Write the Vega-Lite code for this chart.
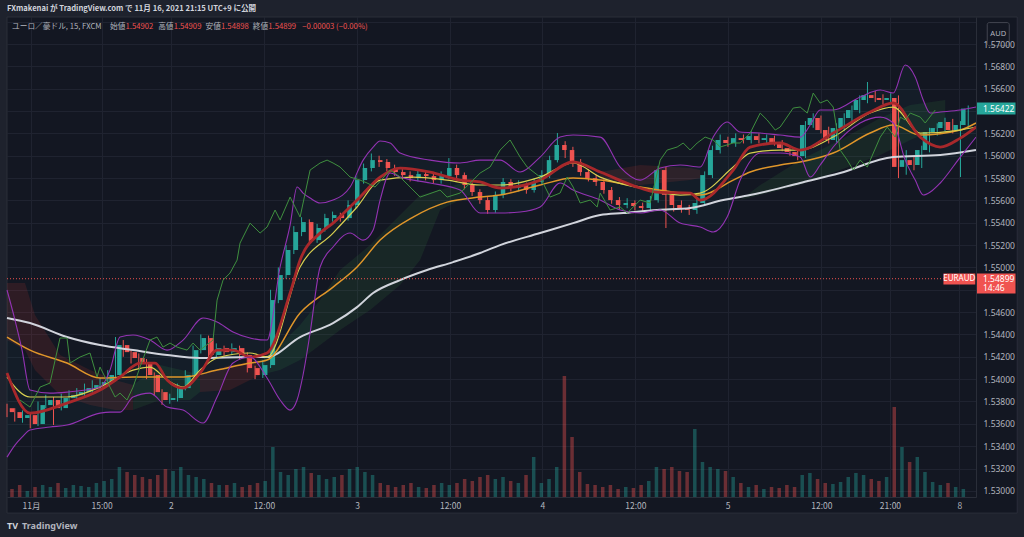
{
"$schema":"https://vega.github.io/schema/vega-lite/v6.json",
"width":969,"height":480,
"autosize":{"type":"none"},
"padding":{"left":7,"top":17,"right":48,"bottom":40},
"background":"#1e222d",
"config":{"view":{"stroke":null,"fill":"#131722"},"font":"Noto Sans CJK JP"},
"title":{"text":"FXmakenai が TradingView.com で 11月 16, 2021 21:15 UTC+9 に公開","anchor":"start","frame":"group","offset":4,"fontSize":7.6,"fontWeight":"bold","color":"#d1d4dc","font":"Noto Sans CJK JP"},
"resolve":{"scale":{"x":"independent","y":"independent"}},
"datasets":{
"c":[
{"t":0,"o":1.5374,"h":1.5378,"l":1.5366,"c":1.53705,"v":8},
{"t":1,"o":1.53705,"h":1.5374,"l":1.5362,"c":1.53652,"v":12},
{"t":2,"o":1.53652,"h":1.5372,"l":1.5361,"c":1.53678,"v":6},
{"t":3,"o":1.53678,"h":1.537,"l":1.5356,"c":1.53598,"v":10},
{"t":4,"o":1.53598,"h":1.538,"l":1.5358,"c":1.53768,"v":12},
{"t":5,"o":1.53768,"h":1.5386,"l":1.5374,"c":1.53813,"v":10},
{"t":6,"o":1.53813,"h":1.5384,"l":1.5359,"c":1.53741,"v":14},
{"t":7,"o":1.53741,"h":1.5387,"l":1.5372,"c":1.53831,"v":9},
{"t":8,"o":1.53831,"h":1.539,"l":1.538,"c":1.53857,"v":12},
{"t":9,"o":1.53857,"h":1.5392,"l":1.5382,"c":1.53884,"v":11},
{"t":10,"o":1.53884,"h":1.5396,"l":1.5385,"c":1.5392,"v":10},
{"t":11,"o":1.5392,"h":1.5399,"l":1.5388,"c":1.53947,"v":14},
{"t":12,"o":1.53947,"h":1.5401,"l":1.539,"c":1.53974,"v":16},
{"t":13,"o":1.53974,"h":1.5408,"l":1.5394,"c":1.54037,"v":18},
{"t":14,"o":1.54037,"h":1.54377,"l":1.5401,"c":1.54305,"v":30},
{"t":15,"o":1.54305,"h":1.5435,"l":1.542,"c":1.54242,"v":25},
{"t":16,"o":1.54242,"h":1.5427,"l":1.5414,"c":1.54189,"v":22},
{"t":17,"o":1.54189,"h":1.5423,"l":1.541,"c":1.54153,"v":20},
{"t":18,"o":1.54153,"h":1.5418,"l":1.54,"c":1.54037,"v":18},
{"t":19,"o":1.54037,"h":1.5406,"l":1.5385,"c":1.53884,"v":22},
{"t":20,"o":1.53884,"h":1.5391,"l":1.5377,"c":1.53813,"v":28},
{"t":21,"o":1.53813,"h":1.5387,"l":1.5378,"c":1.53831,"v":26},
{"t":22,"o":1.53831,"h":1.5396,"l":1.538,"c":1.5392,"v":30},
{"t":23,"o":1.5392,"h":1.5408,"l":1.539,"c":1.54037,"v":22},
{"t":24,"o":1.54037,"h":1.543,"l":1.5402,"c":1.5426,"v":20},
{"t":25,"o":1.5426,"h":1.544,"l":1.5423,"c":1.54368,"v":18},
{"t":26,"o":1.54368,"h":1.5439,"l":1.5418,"c":1.54216,"v":14},
{"t":27,"o":1.54216,"h":1.5432,"l":1.5419,"c":1.54278,"v":12},
{"t":28,"o":1.54278,"h":1.543,"l":1.5421,"c":1.54242,"v":12},
{"t":29,"o":1.54242,"h":1.5432,"l":1.5422,"c":1.54278,"v":14},
{"t":30,"o":1.54278,"h":1.543,"l":1.5418,"c":1.54216,"v":10},
{"t":31,"o":1.54216,"h":1.5424,"l":1.5406,"c":1.54099,"v":12},
{"t":32,"o":1.54099,"h":1.5412,"l":1.54,"c":1.54037,"v":14},
{"t":33,"o":1.54037,"h":1.5417,"l":1.5401,"c":1.54126,"v":16},
{"t":34,"o":1.54126,"h":1.548,"l":1.541,"c":1.54708,"v":50},
{"t":35,"o":1.54708,"h":1.55,"l":1.5468,"c":1.54932,"v":25},
{"t":36,"o":1.54932,"h":1.552,"l":1.549,"c":1.55156,"v":22},
{"t":37,"o":1.55156,"h":1.5537,"l":1.5512,"c":1.55317,"v":28},
{"t":38,"o":1.55317,"h":1.5545,"l":1.5528,"c":1.55406,"v":30},
{"t":39,"o":1.55406,"h":1.5543,"l":1.552,"c":1.55245,"v":24},
{"t":40,"o":1.55245,"h":1.5539,"l":1.5522,"c":1.55353,"v":22},
{"t":41,"o":1.55353,"h":1.5548,"l":1.5532,"c":1.55442,"v":18},
{"t":42,"o":1.55442,"h":1.555,"l":1.5541,"c":1.55469,"v":20},
{"t":43,"o":1.55469,"h":1.5549,"l":1.5541,"c":1.55442,"v":22},
{"t":44,"o":1.55442,"h":1.556,"l":1.5542,"c":1.55559,"v":28},
{"t":45,"o":1.55559,"h":1.5582,"l":1.5553,"c":1.55782,"v":30},
{"t":46,"o":1.55782,"h":1.5593,"l":1.5575,"c":1.5589,"v":25},
{"t":47,"o":1.5589,"h":1.5602,"l":1.5586,"c":1.55961,"v":22},
{"t":48,"o":1.55961,"h":1.56,"l":1.559,"c":1.55944,"v":14},
{"t":49,"o":1.55944,"h":1.5597,"l":1.5586,"c":1.5589,"v":12},
{"t":50,"o":1.5589,"h":1.5592,"l":1.5582,"c":1.55854,"v":10},
{"t":51,"o":1.55854,"h":1.5588,"l":1.5579,"c":1.55827,"v":12},
{"t":52,"o":1.55827,"h":1.5586,"l":1.5577,"c":1.558,"v":14},
{"t":53,"o":1.558,"h":1.5587,"l":1.5577,"c":1.55836,"v":10},
{"t":54,"o":1.55836,"h":1.5586,"l":1.5578,"c":1.55818,"v":9},
{"t":55,"o":1.55818,"h":1.5584,"l":1.5575,"c":1.55782,"v":12},
{"t":56,"o":1.55782,"h":1.5586,"l":1.5575,"c":1.55818,"v":14},
{"t":57,"o":1.55818,"h":1.55979,"l":1.5579,"c":1.5589,"v":12},
{"t":58,"o":1.5589,"h":1.5592,"l":1.558,"c":1.55827,"v":14},
{"t":59,"o":1.55827,"h":1.5585,"l":1.557,"c":1.55738,"v":18},
{"t":60,"o":1.55738,"h":1.5576,"l":1.5564,"c":1.55675,"v":16},
{"t":61,"o":1.55675,"h":1.557,"l":1.5557,"c":1.55603,"v":20},
{"t":62,"o":1.55603,"h":1.5563,"l":1.5548,"c":1.55514,"v":22},
{"t":63,"o":1.55514,"h":1.5568,"l":1.5549,"c":1.55648,"v":18},
{"t":64,"o":1.55648,"h":1.558,"l":1.5562,"c":1.55765,"v":20},
{"t":65,"o":1.55765,"h":1.5579,"l":1.5568,"c":1.55711,"v":16},
{"t":66,"o":1.55711,"h":1.5578,"l":1.5568,"c":1.55738,"v":14},
{"t":67,"o":1.55738,"h":1.5576,"l":1.5566,"c":1.55693,"v":22},
{"t":68,"o":1.55693,"h":1.558,"l":1.5567,"c":1.55765,"v":40},
{"t":69,"o":1.55765,"h":1.5587,"l":1.5574,"c":1.55827,"v":14},
{"t":70,"o":1.55827,"h":1.56,"l":1.558,"c":1.55961,"v":18},
{"t":71,"o":1.55961,"h":1.56203,"l":1.5594,"c":1.56096,"v":30},
{"t":72,"o":1.56096,"h":1.5613,"l":1.5598,"c":1.56051,"v":121},
{"t":73,"o":1.56051,"h":1.5608,"l":1.559,"c":1.55944,"v":60},
{"t":74,"o":1.55944,"h":1.5597,"l":1.5582,"c":1.55854,"v":25},
{"t":75,"o":1.55854,"h":1.5588,"l":1.5577,"c":1.558,"v":13},
{"t":76,"o":1.558,"h":1.5583,"l":1.5573,"c":1.55765,"v":12},
{"t":77,"o":1.55765,"h":1.5579,"l":1.5566,"c":1.55693,"v":10},
{"t":78,"o":1.55693,"h":1.5572,"l":1.5557,"c":1.55603,"v":12},
{"t":79,"o":1.55603,"h":1.5563,"l":1.5552,"c":1.55559,"v":8},
{"t":80,"o":1.55559,"h":1.5562,"l":1.5553,"c":1.55577,"v":10},
{"t":81,"o":1.55577,"h":1.556,"l":1.5551,"c":1.5555,"v":9},
{"t":82,"o":1.5555,"h":1.5558,"l":1.555,"c":1.55532,"v":12},
{"t":83,"o":1.55532,"h":1.5564,"l":1.555,"c":1.55603,"v":16},
{"t":84,"o":1.55603,"h":1.5591,"l":1.5558,"c":1.55872,"v":30},
{"t":85,"o":1.55872,"h":1.559,"l":1.55353,"c":1.5565,"v":28},
{"t":86,"o":1.5565,"h":1.5568,"l":1.555,"c":1.55559,"v":30},
{"t":87,"o":1.55559,"h":1.556,"l":1.5549,"c":1.55532,"v":26},
{"t":88,"o":1.55532,"h":1.5556,"l":1.5547,"c":1.55514,"v":25},
{"t":89,"o":1.55514,"h":1.5562,"l":1.5548,"c":1.55577,"v":68},
{"t":90,"o":1.55577,"h":1.5586,"l":1.5556,"c":1.55827,"v":35},
{"t":91,"o":1.55827,"h":1.5609,"l":1.558,"c":1.56051,"v":30},
{"t":92,"o":1.56051,"h":1.5619,"l":1.5602,"c":1.56141,"v":28},
{"t":93,"o":1.56141,"h":1.5617,"l":1.5608,"c":1.56114,"v":26},
{"t":94,"o":1.56114,"h":1.562,"l":1.5608,"c":1.56158,"v":20},
{"t":95,"o":1.56158,"h":1.5619,"l":1.5611,"c":1.56141,"v":14},
{"t":96,"o":1.56141,"h":1.5622,"l":1.5611,"c":1.56176,"v":10},
{"t":97,"o":1.56176,"h":1.562,"l":1.5611,"c":1.56141,"v":12},
{"t":98,"o":1.56141,"h":1.5619,"l":1.5611,"c":1.56158,"v":8},
{"t":99,"o":1.56158,"h":1.5618,"l":1.5609,"c":1.56123,"v":10},
{"t":100,"o":1.56123,"h":1.5614,"l":1.5604,"c":1.56069,"v":9},
{"t":101,"o":1.56069,"h":1.5609,"l":1.56,"c":1.56033,"v":12},
{"t":102,"o":1.56033,"h":1.5606,"l":1.5596,"c":1.55997,"v":10},
{"t":103,"o":1.55997,"h":1.5631,"l":1.5598,"c":1.56275,"v":22},
{"t":104,"o":1.56275,"h":1.5638,"l":1.5625,"c":1.56338,"v":24},
{"t":105,"o":1.56338,"h":1.5636,"l":1.562,"c":1.5623,"v":18},
{"t":106,"o":1.5623,"h":1.5626,"l":1.5611,"c":1.56141,"v":14},
{"t":107,"o":1.56141,"h":1.5629,"l":1.5612,"c":1.56248,"v":13},
{"t":108,"o":1.56248,"h":1.5638,"l":1.5622,"c":1.56338,"v":15},
{"t":109,"o":1.56338,"h":1.5645,"l":1.5631,"c":1.56409,"v":20},
{"t":110,"o":1.56409,"h":1.5654,"l":1.5638,"c":1.56499,"v":24},
{"t":111,"o":1.56499,"h":1.5666,"l":1.5647,"c":1.56543,"v":22},
{"t":112,"o":1.56543,"h":1.5658,"l":1.5648,"c":1.56517,"v":18},
{"t":113,"o":1.56517,"h":1.5655,"l":1.5646,"c":1.56499,"v":16},
{"t":114,"o":1.56499,"h":1.5656,"l":1.5647,"c":1.56517,"v":20},
{"t":115,"o":1.56517,"h":1.5654,"l":1.558,"c":1.559,"v":90},
{"t":116,"o":1.559,"h":1.5605,"l":1.5583,"c":1.55961,"v":50},
{"t":117,"o":1.55961,"h":1.56,"l":1.5587,"c":1.55917,"v":35},
{"t":118,"o":1.55917,"h":1.5609,"l":1.5589,"c":1.56051,"v":40},
{"t":119,"o":1.56051,"h":1.5625,"l":1.5603,"c":1.56212,"v":25},
{"t":120,"o":1.56212,"h":1.5629,"l":1.5618,"c":1.56248,"v":15},
{"t":121,"o":1.56248,"h":1.5634,"l":1.5622,"c":1.56302,"v":12},
{"t":122,"o":1.56302,"h":1.5633,"l":1.562,"c":1.5623,"v":14},
{"t":123,"o":1.5623,"h":1.5631,"l":1.55809,"c":1.56275,"v":10},
{"t":124,"o":1.56275,"h":1.5645,"l":1.5625,"c":1.56422,"v":8}
],
"bb":[
{"t":0,"u":1.54798,"d":1.53302},{"t":1.03,"u":1.54529,"d":1.5341},{"t":1.94,"u":1.5426,"d":1.53481},{"t":2.97,"u":1.53902,"d":1.53544},
{"t":5.55,"u":1.53875,"d":1.53571},{"t":7.74,"u":1.53884,"d":1.53589},{"t":12,"u":1.53929,"d":1.53696},{"t":13.29,"u":1.54081,"d":1.53705},
{"t":14.58,"u":1.54377,"d":1.53705},{"t":16.26,"u":1.54395,"d":1.5384},{"t":18.45,"u":1.5435,"d":1.53875},{"t":20.65,"u":1.5426,"d":1.5375},
{"t":22.71,"u":1.5435,"d":1.53723},{"t":25.29,"u":1.54547,"d":1.53607},{"t":27.1,"u":1.54511,"d":1.5384},{"t":29.16,"u":1.54422,"d":1.54144},
{"t":31.35,"u":1.54368,"d":1.54198},{"t":33.55,"u":1.5435,"d":1.5401},{"t":35.23,"u":1.55004,"d":1.53813},{"t":36.52,"u":1.55379,"d":1.53723},
{"t":37.42,"u":1.5572,"d":1.53813},{"t":38.19,"u":1.55666,"d":1.54037},{"t":39.1,"u":1.55621,"d":1.54413},{"t":40.39,"u":1.55577,"d":1.55004},
{"t":42.06,"u":1.55603,"d":1.55183},{"t":44.26,"u":1.5572,"d":1.55308},{"t":45.94,"u":1.55961,"d":1.55245},{"t":47.23,"u":1.56078,"d":1.55335},
{"t":48.13,"u":1.56132,"d":1.55603},{"t":49.42,"u":1.56114,"d":1.55845},{"t":50.71,"u":1.56024,"d":1.55809},{"t":54.58,"u":1.55961,"d":1.55756},
{"t":58.45,"u":1.55935,"d":1.55693},{"t":61.03,"u":1.55961,"d":1.55487},{"t":63.61,"u":1.55961,"d":1.55487},{"t":66.19,"u":1.55854,"d":1.55496},
{"t":68.77,"u":1.55988,"d":1.55541},{"t":71.35,"u":1.56167,"d":1.55756},{"t":73.03,"u":1.56185,"d":1.55693},{"t":76.52,"u":1.56167,"d":1.55603},
{"t":79.1,"u":1.55899,"d":1.55514},{"t":81.68,"u":1.55782,"d":1.55487},{"t":84.26,"u":1.5589,"d":1.55514},{"t":86.84,"u":1.55917,"d":1.55397},
{"t":89.42,"u":1.55899,"d":1.55362},{"t":91.1,"u":1.56167,"d":1.55317},{"t":92.9,"u":1.56302,"d":1.55451},{"t":94.58,"u":1.56212,"d":1.55782},
{"t":97.16,"u":1.56203,"d":1.56024},{"t":99.74,"u":1.56185,"d":1.56024},{"t":102.32,"u":1.56167,"d":1.55988},{"t":103.61,"u":1.56275,"d":1.55809},
{"t":104.9,"u":1.56409,"d":1.55917},{"t":106.58,"u":1.56409,"d":1.56078},{"t":110.06,"u":1.56526,"d":1.56293},{"t":112.65,"u":1.56588,"d":1.56346},
{"t":114.32,"u":1.56561,"d":1.56293},{"t":115.87,"u":1.56812,"d":1.55961},{"t":117.16,"u":1.56705,"d":1.55782},{"t":118.19,"u":1.56499,"d":1.55648},
{"t":119.1,"u":1.56382,"d":1.55675},{"t":120.39,"u":1.56391,"d":1.55756},{"t":122.97,"u":1.56409,"d":1.55988},{"t":125,"u":1.56436,"d":1.56167}
],
"cl":[
{"g":1,"k":"dn","t":0,"a":1.5486,"b":1.5435},{"g":1,"k":"dn","t":2.32,"a":1.5486,"b":1.5426},{"g":1,"k":"dn","t":3.61,"a":1.54574,"b":1.54081},{"g":1,"k":"dn","t":6.84,"a":1.54216,"b":1.53857},{"g":1,"k":"dn","t":10.71,"a":1.54081,"b":1.53768},{"g":1,"k":"dn","t":13.94,"a":1.53992,"b":1.53723},{"g":1,"k":"dn","t":16.26,"a":1.53947,"b":1.53723},
{"g":2,"k":"up","t":16.26,"a":1.53947,"b":1.53723},{"g":2,"k":"up","t":19.74,"a":1.54126,"b":1.53813},{"g":2,"k":"up","t":23.61,"a":1.54063,"b":1.53813},{"g":2,"k":"up","t":24.9,"a":1.54037,"b":1.53884},
{"g":3,"k":"dn","t":24.9,"a":1.54037,"b":1.53884},{"g":3,"k":"dn","t":28.77,"a":1.54126,"b":1.53902},{"g":3,"k":"dn","t":32.65,"a":1.54171,"b":1.54037},
{"g":4,"k":"up","t":32.65,"a":1.54171,"b":1.54037},{"g":4,"k":"up","t":35.23,"a":1.54305,"b":1.54081},{"g":4,"k":"up","t":37.81,"a":1.54484,"b":1.54171},{"g":4,"k":"up","t":40.39,"a":1.54708,"b":1.54305},{"g":4,"k":"up","t":42.97,"a":1.54977,"b":1.54439},{"g":4,"k":"up","t":46.84,"a":1.552,"b":1.54619},{"g":4,"k":"up","t":50.71,"a":1.55469,"b":1.54842},{"g":4,"k":"up","t":53.29,"a":1.55648,"b":1.55066},{"g":4,"k":"up","t":55.87,"a":1.55693,"b":1.55514},{"g":4,"k":"up","t":59.74,"a":1.55782,"b":1.55648},
{"g":5,"k":"dn","t":76.52,"a":1.55854,"b":1.55782},{"g":5,"k":"dn","t":81.68,"a":1.55917,"b":1.55738},{"g":5,"k":"dn","t":88.13,"a":1.5589,"b":1.55782},{"g":5,"k":"dn","t":89.42,"a":1.55872,"b":1.558},
{"g":6,"k":"up","t":94.58,"a":1.55603,"b":1.55603},{"g":6,"k":"up","t":97.16,"a":1.55738,"b":1.55648},{"g":6,"k":"up","t":102.32,"a":1.55961,"b":1.55738},{"g":6,"k":"up","t":107.48,"a":1.56141,"b":1.55872},{"g":6,"k":"up","t":112.65,"a":1.56338,"b":1.56006},{"g":6,"k":"up","t":116.52,"a":1.56454,"b":1.56141},{"g":6,"k":"up","t":121.03,"a":1.56499,"b":1.56275}
],
"ln":[
{"s":"w","t":0,"p":1.54547},{"s":"w","t":2.97,"p":1.54502},{"s":"w","t":7.74,"p":1.54377},{"s":"w","t":12,"p":1.54305},{"s":"w","t":16.26,"p":1.5426},{"s":"w","t":20.65,"p":1.54216},{"s":"w","t":24.9,"p":1.54189},{"s":"w","t":31.35,"p":1.54198},{"s":"w","t":33.55,"p":1.54198},{"s":"w","t":37.81,"p":1.54377},{"s":"w","t":42.06,"p":1.54502},{"s":"w","t":45.16,"p":1.54645},{"s":"w","t":47.23,"p":1.54771},{"s":"w","t":50.71,"p":1.54887},{"s":"w","t":54.19,"p":1.54977},{"s":"w","t":57.55,"p":1.55048},{"s":"w","t":61.03,"p":1.55129},{"s":"w","t":63.61,"p":1.552},{"s":"w","t":68.77,"p":1.55308},{"s":"w","t":73.03,"p":1.55397},{"s":"w","t":76.52,"p":1.55469},{"s":"w","t":79.48,"p":1.55487},{"s":"w","t":83.87,"p":1.55514},{"s":"w","t":88.13,"p":1.55532},{"s":"w","t":92.39,"p":1.55603},{"s":"w","t":95.87,"p":1.55648},{"s":"w","t":102.32,"p":1.55756},{"s":"w","t":107.48,"p":1.55845},{"s":"w","t":114.32,"p":1.55988},{"s":"w","t":120.39,"p":1.56006},{"s":"w","t":125,"p":1.56051},
{"s":"o","t":0,"p":1.54377},{"s":"o","t":2.97,"p":1.5426},{"s":"o","t":7.74,"p":1.54144},{"s":"o","t":12,"p":1.5401},{"s":"o","t":16.26,"p":1.54019},{"s":"o","t":22.71,"p":1.54019},{"s":"o","t":27.1,"p":1.54081},{"s":"o","t":31.35,"p":1.54144},{"s":"o","t":33.55,"p":1.54171},{"s":"o","t":37.81,"p":1.54592},{"s":"o","t":42.06,"p":1.54824},{"s":"o","t":45.16,"p":1.55004},{"s":"o","t":48.13,"p":1.55245},{"s":"o","t":52.39,"p":1.55451},{"s":"o","t":56.77,"p":1.55585},{"s":"o","t":61.03,"p":1.5563},{"s":"o","t":63.61,"p":1.55648},{"s":"o","t":68.77,"p":1.55738},{"s":"o","t":73.03,"p":1.558},{"s":"o","t":76.52,"p":1.55782},{"s":"o","t":81.68,"p":1.5572},{"s":"o","t":86.84,"p":1.55666},{"s":"o","t":89.42,"p":1.55648},{"s":"o","t":93.68,"p":1.55782},{"s":"o","t":95.87,"p":1.55854},{"s":"o","t":99.74,"p":1.55917},{"s":"o","t":102.32,"p":1.55944},{"s":"o","t":106.58,"p":1.56024},{"s":"o","t":111.35,"p":1.56203},{"s":"o","t":114.32,"p":1.56275},{"s":"o","t":117.81,"p":1.56185},{"s":"o","t":122.97,"p":1.5623},{"s":"o","t":125,"p":1.56293},
{"s":"y","t":0,"p":1.54019},{"s":"y","t":2.97,"p":1.5384},{"s":"y","t":7.74,"p":1.5384},{"s":"y","t":12,"p":1.53929},{"s":"y","t":16.26,"p":1.54081},{"s":"y","t":18.45,"p":1.54108},{"s":"y","t":20.65,"p":1.53992},{"s":"y","t":22.71,"p":1.53929},{"s":"y","t":24.9,"p":1.54081},{"s":"y","t":27.1,"p":1.54189},{"s":"y","t":31.35,"p":1.54234},{"s":"y","t":33.55,"p":1.54198},{"s":"y","t":37.81,"p":1.55004},{"s":"y","t":42.06,"p":1.55308},{"s":"y","t":45.16,"p":1.55541},{"s":"y","t":48.13,"p":1.55782},{"s":"y","t":52.39,"p":1.55809},{"s":"y","t":56.77,"p":1.55782},{"s":"y","t":61.03,"p":1.55738},{"s":"y","t":63.61,"p":1.55738},{"s":"y","t":68.77,"p":1.55809},{"s":"y","t":73.03,"p":1.55935},{"s":"y","t":76.52,"p":1.55809},{"s":"y","t":81.68,"p":1.55711},{"s":"y","t":86.84,"p":1.55648},{"s":"y","t":89.42,"p":1.55666},{"s":"y","t":93.68,"p":1.55899},{"s":"y","t":95.87,"p":1.56024},{"s":"y","t":99.74,"p":1.56051},{"s":"y","t":102.32,"p":1.56051},{"s":"y","t":106.58,"p":1.56167},{"s":"y","t":111.35,"p":1.56382},{"s":"y","t":114.32,"p":1.56436},{"s":"y","t":117.81,"p":1.56203},{"s":"y","t":122.97,"p":1.5623},{"s":"y","t":125,"p":1.56257},
{"s":"r","t":0,"p":1.54054},{"s":"r","t":2.97,"p":1.53696},{"s":"r","t":7.74,"p":1.53786},{"s":"r","t":12,"p":1.53902},{"s":"r","t":14.58,"p":1.54019},{"s":"r","t":17.16,"p":1.54144},{"s":"r","t":19.1,"p":1.54144},{"s":"r","t":20.65,"p":1.53992},{"s":"r","t":22.71,"p":1.5392},{"s":"r","t":24.9,"p":1.54054},{"s":"r","t":27.1,"p":1.5426},{"s":"r","t":29.16,"p":1.5426},{"s":"r","t":31.35,"p":1.54198},{"s":"r","t":33.55,"p":1.54234},{"s":"r","t":36.52,"p":1.54771},{"s":"r","t":37.81,"p":1.55066},{"s":"r","t":40.39,"p":1.55308},{"s":"r","t":42.06,"p":1.55397},{"s":"r","t":45.16,"p":1.55603},{"s":"r","t":48.13,"p":1.55809},{"s":"r","t":50.71,"p":1.5589},{"s":"r","t":54.58,"p":1.55854},{"s":"r","t":58.45,"p":1.55782},{"s":"r","t":61.03,"p":1.55765},{"s":"r","t":63.61,"p":1.55711},{"s":"r","t":68.77,"p":1.55782},{"s":"r","t":73.03,"p":1.55944},{"s":"r","t":76.52,"p":1.55854},{"s":"r","t":81.68,"p":1.55711},{"s":"r","t":83.87,"p":1.55675},{"s":"r","t":88.13,"p":1.55666},{"s":"r","t":89.42,"p":1.55603},{"s":"r","t":93.68,"p":1.55872},{"s":"r","t":95.87,"p":1.56078},{"s":"r","t":99.74,"p":1.56114},{"s":"r","t":102.32,"p":1.56051},{"s":"r","t":106.58,"p":1.56203},{"s":"r","t":111.35,"p":1.56391},{"s":"r","t":114.32,"p":1.56472},{"s":"r","t":117.81,"p":1.56167},{"s":"r","t":120.39,"p":1.56078},{"s":"r","t":122.97,"p":1.56158},{"s":"r","t":125,"p":1.56257},
{"s":"g","t":1.68,"p":1.53813},{"s":"g","t":2.97,"p":1.5375},{"s":"g","t":4.26,"p":1.53929},{"s":"g","t":5.55,"p":1.53965},{"s":"g","t":6.84,"p":1.54368},{"s":"g","t":7.74,"p":1.54368},{"s":"g","t":8.13,"p":1.54144},{"s":"g","t":9.42,"p":1.54198},{"s":"g","t":10.71,"p":1.54234},{"s":"g","t":11.61,"p":1.54019},{"s":"g","t":12,"p":1.54108},{"s":"g","t":13.29,"p":1.53929},{"s":"g","t":13.94,"p":1.5384},{"s":"g","t":14.58,"p":1.53875},{"s":"g","t":15.48,"p":1.53813},{"s":"g","t":16.26,"p":1.53929},{"s":"g","t":17.16,"p":1.54108},{"s":"g","t":18.45,"p":1.5435},{"s":"g","t":19.35,"p":1.54377},{"s":"g","t":20.13,"p":1.54287},{"s":"g","t":21.03,"p":1.54323},{"s":"g","t":21.94,"p":1.54287},{"s":"g","t":23.23,"p":1.5426},{"s":"g","t":24,"p":1.54323},{"s":"g","t":24.9,"p":1.5426},{"s":"g","t":26.58,"p":1.5435},{"s":"g","t":27.1,"p":1.54708},{"s":"g","t":27.87,"p":1.54887},{"s":"g","t":28.77,"p":1.5495},{"s":"g","t":29.68,"p":1.55066},{"s":"g","t":30.06,"p":1.55218},{"s":"g","t":31.35,"p":1.55397},{"s":"g","t":32.65,"p":1.55308},{"s":"g","t":33.55,"p":1.55362},{"s":"g","t":34.58,"p":1.55514},{"s":"g","t":35.23,"p":1.55424},{"s":"g","t":36.52,"p":1.5563},{"s":"g","t":37.81,"p":1.55451},{"s":"g","t":39.1,"p":1.55872},{"s":"g","t":40.39,"p":1.55935},{"s":"g","t":41.29,"p":1.55961},{"s":"g","t":42.06,"p":1.55935},{"s":"g","t":42.97,"p":1.55899},{"s":"g","t":44.26,"p":1.55809},{"s":"g","t":45.55,"p":1.55782},{"s":"g","t":46.45,"p":1.55756},{"s":"g","t":47.48,"p":1.5572},{"s":"g","t":49.42,"p":1.55872},{"s":"g","t":50.71,"p":1.55809},{"s":"g","t":53.29,"p":1.5563},{"s":"g","t":55.87,"p":1.55693},{"s":"g","t":56.77,"p":1.5563},{"s":"g","t":58.45,"p":1.55666},{"s":"g","t":59.74,"p":1.55756},{"s":"g","t":61.03,"p":1.55845},{"s":"g","t":62.32,"p":1.55899},{"s":"g","t":63.61,"p":1.56051},{"s":"g","t":64.9,"p":1.56141},{"s":"g","t":66.19,"p":1.55988},{"s":"g","t":67.1,"p":1.55899},{"s":"g","t":68.77,"p":1.55809},{"s":"g","t":70.06,"p":1.5563},{"s":"g","t":71.35,"p":1.55666},{"s":"g","t":72.26,"p":1.55809},{"s":"g","t":73.03,"p":1.5572},{"s":"g","t":73.94,"p":1.55577},{"s":"g","t":75.23,"p":1.55603},{"s":"g","t":76.13,"p":1.55541},{"s":"g","t":76.52,"p":1.55666},{"s":"g","t":77.81,"p":1.55514},{"s":"g","t":79.1,"p":1.55541},{"s":"g","t":80,"p":1.55487},{"s":"g","t":81.68,"p":1.55603},{"s":"g","t":82.97,"p":1.55577},{"s":"g","t":84.26,"p":1.55961},{"s":"g","t":85.16,"p":1.56051},{"s":"g","t":86.45,"p":1.56078},{"s":"g","t":87.23,"p":1.56114},{"s":"g","t":88.13,"p":1.56051},{"s":"g","t":89.03,"p":1.56114},{"s":"g","t":90.06,"p":1.56167},{"s":"g","t":91.1,"p":1.56141},{"s":"g","t":92,"p":1.56078},{"s":"g","t":93.68,"p":1.56114},{"s":"g","t":94.58,"p":1.56114},{"s":"g","t":95.87,"p":1.56203},{"s":"g","t":97.16,"p":1.56382},{"s":"g","t":98.06,"p":1.5632},{"s":"g","t":99.1,"p":1.5623},{"s":"g","t":99.74,"p":1.56257},{"s":"g","t":101.42,"p":1.56427},{"s":"g","t":102.32,"p":1.56436},{"s":"g","t":103.23,"p":1.56382},{"s":"g","t":104,"p":1.56561},{"s":"g","t":104.9,"p":1.56472},{"s":"g","t":105.81,"p":1.56499},{"s":"g","t":106.58,"p":1.56436},{"s":"g","t":107.48,"p":1.56051},{"s":"g","t":108.39,"p":1.55961},{"s":"g","t":109.16,"p":1.55872},{"s":"g","t":110.06,"p":1.55961},{"s":"g","t":110.97,"p":1.55899},{"s":"g","t":112.65,"p":1.56167},{"s":"g","t":113.55,"p":1.56257},{"s":"g","t":114.58,"p":1.56167},{"s":"g","t":115.23,"p":1.56346},{"s":"g","t":115.87,"p":1.5632},{"s":"g","t":116.52,"p":1.56382},{"s":"g","t":117.81,"p":1.56346},{"s":"g","t":118.45,"p":1.56293},{"s":"g","t":119.74,"p":1.56409}
]
},
"layer":[
{"data":{"values":[{}]},"mark":{"type":"rect","fill":"#131722"},"encoding":{"x":{"datum":125,"type":"quantitative","scale":{"domain":[0,125],"nice":false,"zero":false},"axis":null},"x2":{"datum":130.32},"y":{"datum":1.57242,"type":"quantitative","scale":{"domain":[1.52945,1.57242],"nice":false,"zero":false},"axis":null},"y2":{"datum":1.52801}}},
{"data":{"values":[{}]},"mark":{"type":"rect","fill":"#131722"},"encoding":{"x":{"datum":0,"type":"quantitative","scale":{"domain":[0,125],"nice":false,"zero":false},"axis":null},"x2":{"datum":125},"y":{"datum":1.52945,"type":"quantitative","scale":{"domain":[1.52945,1.57242],"nice":false,"zero":false},"axis":null},"y2":{"datum":1.52801}}},
{"data":{"values":[{}]},"mark":{"type":"rect","fill":null,"stroke":"#2a2e39","strokeWidth":1},"encoding":{"x":{"datum":0,"type":"quantitative","scale":{"domain":[0,125],"nice":false,"zero":false},"axis":null},"x2":{"datum":130.32},"y":{"datum":1.57242,"type":"quantitative","scale":{"domain":[1.52945,1.57242],"nice":false,"zero":false},"axis":null},"y2":{"datum":1.52801}}},
{"data":{"name":"cl"},"mark":{"type":"area","opacity":0.12},"encoding":{"x":{"field":"t","type":"quantitative","scale":{"domain":[0,125],"nice":false,"zero":false},"axis":null},"y":{"field":"a","type":"quantitative","scale":{"domain":[1.52945,1.57242],"nice":false,"zero":false},"axis":null},"y2":{"field":"b"},"detail":{"field":"g"},"color":{"field":"k","type":"nominal","scale":{"domain":["up","dn"],"range":["#43a047","#f44336"]},"legend":null}}},
{"data":{"name":"bb"},"mark":{"type":"area","color":"#26a69a","opacity":0.05,"interpolate":"monotone"},"encoding":{
  "x":{"field":"t","type":"quantitative","scale":{"domain":[0,125],"nice":false,"zero":false},"axis":{"orient":"bottom","title":null,"values":[3.1,12.2,21.15,33.15,45.15,57.15,69.05,81.05,92.95,105.05,113.9,122.85],"grid":true,"gridColor":"#1f2330","labels":false,"ticks":false,"domain":false,"zindex":0}},
  "y":{"field":"u","type":"quantitative","scale":{"domain":[1.52945,1.57242],"nice":false,"zero":false},"axis":{"orient":"right","title":null,"values":[1.530,1.532,1.534,1.536,1.538,1.540,1.542,1.544,1.546,1.548,1.550,1.552,1.554,1.556,1.558,1.560,1.562,1.564,1.566,1.568,1.570,1.572],"grid":true,"gridColor":"#1f2330","labels":false,"ticks":false,"domain":false,"zindex":0}},"y2":{"field":"d"}}},
{"data":{"name":"c"},"mark":{"type":"bar","size":3.5,"opacity":0.4},"encoding":{"x":{"field":"t","type":"quantitative","scale":{"domain":[0,125],"nice":false,"zero":false},"axis":null},"y":{"field":"v","type":"quantitative","scale":{"domain":[0,480],"nice":false,"zero":true},"axis":null},"y2":{"datum":0},"color":{"condition":{"test":"datum.c >= datum.o","value":"#26a69a"},"value":"#ef5350"}}},
{"data":{"name":"c"},"mark":{"type":"rule","strokeWidth":1},"encoding":{"x":{"field":"t","type":"quantitative","scale":{"domain":[0,125],"nice":false,"zero":false},
  "axis":{"orient":"bottom","title":null,"values":[3.1,12.2,21.15,33.15,45.15,57.15,69.05,81.05,92.95,105.05,113.9,122.85],
  "labelExpr":"datum.value < 5 ? '11月' : datum.value < 15 ? '15:00' : datum.value < 25 ? '2' : datum.value < 40 ? '12:00' : datum.value < 50 ? '3' : datum.value < 60 ? '12:00' : datum.value < 75 ? '4' : datum.value < 85 ? '12:00' : datum.value < 100 ? '5' : datum.value < 110 ? '12:00' : datum.value < 118 ? '21:00' : '8'",
  "grid":false,"ticks":false,"domainColor":"#2a2e39","labelColor":"#b2b5be","labelFontSize":8.5,"labelPadding":4,"labelOverlap":false,"labelFlush":false,"zindex":1}},
  "y":{"field":"l","type":"quantitative","scale":{"domain":[1.52945,1.57242],"nice":false,"zero":false},
  "axis":{"title":null,"orient":"right","values":[1.530,1.532,1.534,1.536,1.538,1.540,1.542,1.544,1.546,1.550,1.552,1.554,1.556,1.558,1.560,1.562,1.566,1.568,1.570],"format":".5f","grid":false,"ticks":false,"domainColor":"#2a2e39","labelColor":"#b2b5be","labelFontSize":8.5,"labelPadding":7,"labelOverlap":false,"labelFlush":false,"labelFont":"Noto Sans","zindex":1}},
  "y2":{"field":"h"},"color":{"condition":{"test":"datum.c >= datum.o","value":"#26a69a"},"value":"#ef5350"}}},
{"data":{"name":"c"},"mark":{"type":"bar","size":4.5},"encoding":{"x":{"field":"t","type":"quantitative","scale":{"domain":[0,125],"nice":false,"zero":false},"axis":null},"y":{"field":"o","type":"quantitative","scale":{"domain":[1.52945,1.57242],"nice":false,"zero":false},"axis":null},"y2":{"field":"c"},"color":{"condition":{"test":"datum.c >= datum.o","value":"#26a69a"},"value":"#ef5350"}}},
{"data":{"name":"ln"},"transform":[{"filter":"datum.s == 'w'"}],"mark":{"type":"line","color":"#d1d4dc","strokeWidth":2,"interpolate":"monotone"},"encoding":{"x":{"field":"t","type":"quantitative","scale":{"domain":[0,125],"nice":false,"zero":false},"axis":null},"y":{"field":"p","type":"quantitative","scale":{"domain":[1.52945,1.57242],"nice":false,"zero":false},"axis":null}}},
{"data":{"name":"ln"},"transform":[{"filter":"datum.s == 'o'"}],"mark":{"type":"line","color":"#e0962a","strokeWidth":1.5,"interpolate":"monotone"},"encoding":{"x":{"field":"t","type":"quantitative","scale":{"domain":[0,125],"nice":false,"zero":false},"axis":null},"y":{"field":"p","type":"quantitative","scale":{"domain":[1.52945,1.57242],"nice":false,"zero":false},"axis":null}}},
{"data":{"name":"ln"},"transform":[{"filter":"datum.s == 'y'"}],"mark":{"type":"line","color":"#d8cf50","strokeWidth":1.2,"interpolate":"monotone"},"encoding":{"x":{"field":"t","type":"quantitative","scale":{"domain":[0,125],"nice":false,"zero":false},"axis":null},"y":{"field":"p","type":"quantitative","scale":{"domain":[1.52945,1.57242],"nice":false,"zero":false},"axis":null}}},
{"data":{"name":"ln"},"transform":[{"filter":"datum.s == 'r'"}],"mark":{"type":"line","color":"#a8282b","strokeWidth":2.8,"interpolate":"monotone"},"encoding":{"x":{"field":"t","type":"quantitative","scale":{"domain":[0,125],"nice":false,"zero":false},"axis":null},"y":{"field":"p","type":"quantitative","scale":{"domain":[1.52945,1.57242],"nice":false,"zero":false},"axis":null}}},
{"data":{"name":"bb"},"mark":{"type":"line","color":"#9333b3","strokeWidth":1.1,"interpolate":"monotone"},"encoding":{"x":{"field":"t","type":"quantitative","scale":{"domain":[0,125],"nice":false,"zero":false},"axis":null},"y":{"field":"u","type":"quantitative","scale":{"domain":[1.52945,1.57242],"nice":false,"zero":false},"axis":null}}},
{"data":{"name":"bb"},"mark":{"type":"line","color":"#9333b3","strokeWidth":1.1,"interpolate":"monotone"},"encoding":{"x":{"field":"t","type":"quantitative","scale":{"domain":[0,125],"nice":false,"zero":false},"axis":null},"y":{"field":"d","type":"quantitative","scale":{"domain":[1.52945,1.57242],"nice":false,"zero":false},"axis":null}}},
{"data":{"name":"ln"},"transform":[{"filter":"datum.s == 'g'"}],"mark":{"type":"line","color":"#3f8f3f","strokeWidth":1},"encoding":{"x":{"field":"t","type":"quantitative","scale":{"domain":[0,125],"nice":false,"zero":false},"axis":null},"y":{"field":"p","type":"quantitative","scale":{"domain":[1.52945,1.57242],"nice":false,"zero":false},"axis":null}}},
{"data":{"values":[{}]},"mark":{"type":"rule","color":"#ef5350","strokeDash":[1,2],"strokeWidth":1},"encoding":{"x":{"datum":0,"type":"quantitative","scale":{"domain":[0,125],"nice":false,"zero":false},"axis":null},"x2":{"datum":125},"y":{"datum":1.54899,"type":"quantitative","scale":{"domain":[1.52945,1.57242],"nice":false,"zero":false},"axis":null}}},
{"data":{"values":[{}]},"mark":{"type":"rect","fill":"#26a69a"},"encoding":{"x":{"datum":125,"type":"quantitative","scale":{"domain":[0,125],"nice":false,"zero":false},"axis":null},"x2":{"datum":130.1},"y":{"datum":1.56476,"type":"quantitative","scale":{"domain":[1.52945,1.57242],"nice":false,"zero":false},"axis":null},"y2":{"datum":1.56369}}},
{"data":{"values":[{}]},"mark":{"type":"text","text":"1.56422","align":"left","baseline":"middle","fontSize":8.5,"color":"#ffffff","font":"Noto Sans"},"encoding":{"x":{"datum":125.9,"type":"quantitative","scale":{"domain":[0,125],"nice":false,"zero":false},"axis":null},"y":{"datum":1.56422,"type":"quantitative","scale":{"domain":[1.52945,1.57242],"nice":false,"zero":false},"axis":null}}},
{"data":{"values":[{}]},"mark":{"type":"rect","fill":"#f05350"},"encoding":{"x":{"datum":125,"type":"quantitative","scale":{"domain":[0,125],"nice":false,"zero":false},"axis":null},"x2":{"datum":130.1},"y":{"datum":1.54945,"type":"quantitative","scale":{"domain":[1.52945,1.57242],"nice":false,"zero":false},"axis":null},"y2":{"datum":1.54766}}},
{"data":{"values":[{}]},"mark":{"type":"rect","fill":"#f05350"},"encoding":{"x":{"datum":120.8,"type":"quantitative","scale":{"domain":[0,125],"nice":false,"zero":false},"axis":null},"x2":{"datum":124.9},"y":{"datum":1.54945,"type":"quantitative","scale":{"domain":[1.52945,1.57242],"nice":false,"zero":false},"axis":null},"y2":{"datum":1.54847}}},
{"data":{"values":[{}]},"mark":{"type":"text","text":"EURAUD","align":"center","baseline":"middle","fontSize":8,"color":"#ffffff","font":"Noto Sans"},"encoding":{"x":{"datum":122.85,"type":"quantitative","scale":{"domain":[0,125],"nice":false,"zero":false},"axis":null},"y":{"datum":1.54896,"type":"quantitative","scale":{"domain":[1.52945,1.57242],"nice":false,"zero":false},"axis":null}}},
{"data":{"values":[{}]},"mark":{"type":"text","text":"1.54899","align":"left","baseline":"middle","fontSize":8.5,"color":"#ffffff","font":"Noto Sans"},"encoding":{"x":{"datum":125.9,"type":"quantitative","scale":{"domain":[0,125],"nice":false,"zero":false},"axis":null},"y":{"datum":1.54896,"type":"quantitative","scale":{"domain":[1.52945,1.57242],"nice":false,"zero":false},"axis":null}}},
{"data":{"values":[{}]},"mark":{"type":"text","text":"14:46","align":"left","baseline":"middle","fontSize":8.5,"color":"#ffffff","font":"Noto Sans"},"encoding":{"x":{"datum":125.9,"type":"quantitative","scale":{"domain":[0,125],"nice":false,"zero":false},"axis":null},"y":{"datum":1.54812,"type":"quantitative","scale":{"domain":[1.52945,1.57242],"nice":false,"zero":false},"axis":null}}},
{"data":{"values":[{}]},"mark":{"type":"rect","fill":"#131722","stroke":"#434651","cornerRadius":2},"encoding":{"x":{"datum":126.45,"type":"quantitative","scale":{"domain":[0,125],"nice":false,"zero":false},"axis":null},"x2":{"datum":129.29},"y":{"datum":1.57192,"type":"quantitative","scale":{"domain":[1.52945,1.57242],"nice":false,"zero":false},"axis":null},"y2":{"datum":1.56985}}},
{"data":{"values":[{}]},"mark":{"type":"text","text":"AUD","align":"center","baseline":"middle","fontSize":7.5,"color":"#b2b5be","font":"Noto Sans"},"encoding":{"x":{"datum":127.87,"type":"quantitative","scale":{"domain":[0,125],"nice":false,"zero":false},"axis":null},"y":{"datum":1.57089,"type":"quantitative","scale":{"domain":[1.52945,1.57242],"nice":false,"zero":false},"axis":null}}},
{"data":{"values":[{}]},"mark":{"type":"text","text":"ユーロ／豪ドル, 15, FXCM","align":"left","baseline":"middle","fontSize":7.7,"color":"#b2b5be"},"encoding":{"x":{"datum":0.65,"type":"quantitative","scale":{"domain":[0,125],"nice":false,"zero":false},"axis":null},"y":{"datum":1.57152,"type":"quantitative","scale":{"domain":[1.52945,1.57242],"nice":false,"zero":false},"axis":null}}},
{"data":{"values":[{}]},"mark":{"type":"text","text":"始値","align":"left","baseline":"middle","fontSize":7.7,"color":"#b2b5be"},"encoding":{"x":{"datum":13.3,"type":"quantitative","scale":{"domain":[0,125],"nice":false,"zero":false},"axis":null},"y":{"datum":1.57152,"type":"quantitative","scale":{"domain":[1.52945,1.57242],"nice":false,"zero":false},"axis":null}}},
{"data":{"values":[{}]},"mark":{"type":"text","text":"1.54902","align":"left","baseline":"middle","fontSize":7.7,"color":"#ef5350"},"encoding":{"x":{"datum":15.3,"type":"quantitative","scale":{"domain":[0,125],"nice":false,"zero":false},"axis":null},"y":{"datum":1.57152,"type":"quantitative","scale":{"domain":[1.52945,1.57242],"nice":false,"zero":false},"axis":null}}},
{"data":{"values":[{}]},"mark":{"type":"text","text":"高値","align":"left","baseline":"middle","fontSize":7.7,"color":"#b2b5be"},"encoding":{"x":{"datum":19.5,"type":"quantitative","scale":{"domain":[0,125],"nice":false,"zero":false},"axis":null},"y":{"datum":1.57152,"type":"quantitative","scale":{"domain":[1.52945,1.57242],"nice":false,"zero":false},"axis":null}}},
{"data":{"values":[{}]},"mark":{"type":"text","text":"1.54909","align":"left","baseline":"middle","fontSize":7.7,"color":"#ef5350"},"encoding":{"x":{"datum":21.5,"type":"quantitative","scale":{"domain":[0,125],"nice":false,"zero":false},"axis":null},"y":{"datum":1.57152,"type":"quantitative","scale":{"domain":[1.52945,1.57242],"nice":false,"zero":false},"axis":null}}},
{"data":{"values":[{}]},"mark":{"type":"text","text":"安値","align":"left","baseline":"middle","fontSize":7.7,"color":"#b2b5be"},"encoding":{"x":{"datum":25.6,"type":"quantitative","scale":{"domain":[0,125],"nice":false,"zero":false},"axis":null},"y":{"datum":1.57152,"type":"quantitative","scale":{"domain":[1.52945,1.57242],"nice":false,"zero":false},"axis":null}}},
{"data":{"values":[{}]},"mark":{"type":"text","text":"1.54898","align":"left","baseline":"middle","fontSize":7.7,"color":"#ef5350"},"encoding":{"x":{"datum":27.6,"type":"quantitative","scale":{"domain":[0,125],"nice":false,"zero":false},"axis":null},"y":{"datum":1.57152,"type":"quantitative","scale":{"domain":[1.52945,1.57242],"nice":false,"zero":false},"axis":null}}},
{"data":{"values":[{}]},"mark":{"type":"text","text":"終値","align":"left","baseline":"middle","fontSize":7.7,"color":"#b2b5be"},"encoding":{"x":{"datum":31.7,"type":"quantitative","scale":{"domain":[0,125],"nice":false,"zero":false},"axis":null},"y":{"datum":1.57152,"type":"quantitative","scale":{"domain":[1.52945,1.57242],"nice":false,"zero":false},"axis":null}}},
{"data":{"values":[{}]},"mark":{"type":"text","text":"1.54899","align":"left","baseline":"middle","fontSize":7.7,"color":"#ef5350"},"encoding":{"x":{"datum":33.7,"type":"quantitative","scale":{"domain":[0,125],"nice":false,"zero":false},"axis":null},"y":{"datum":1.57152,"type":"quantitative","scale":{"domain":[1.52945,1.57242],"nice":false,"zero":false},"axis":null}}},
{"data":{"values":[{}]},"mark":{"type":"text","text":"−0.00003 (−0.00%)","align":"left","baseline":"middle","fontSize":7.7,"color":"#ef5350"},"encoding":{"x":{"datum":38.1,"type":"quantitative","scale":{"domain":[0,125],"nice":false,"zero":false},"axis":null},"y":{"datum":1.57152,"type":"quantitative","scale":{"domain":[1.52945,1.57242],"nice":false,"zero":false},"axis":null}}},
{"data":{"values":[{}]},"mark":{"type":"text","text":"TV","align":"left","baseline":"middle","fontSize":9,"fontWeight":"bold","color":"#d1d4dc","font":"Noto Sans"},"encoding":{"x":{"datum":0,"type":"quantitative","scale":{"domain":[0,125],"nice":false,"zero":false},"axis":null},"y":{"datum":1.52685,"type":"quantitative","scale":{"domain":[1.52945,1.57242],"nice":false,"zero":false},"axis":null}}},
{"data":{"values":[{}]},"mark":{"type":"text","text":"TradingView","align":"left","baseline":"middle","fontSize":9,"fontWeight":"bold","color":"#b2b5be","font":"Noto Sans"},"encoding":{"x":{"datum":1.94,"type":"quantitative","scale":{"domain":[0,125],"nice":false,"zero":false},"axis":null},"y":{"datum":1.52685,"type":"quantitative","scale":{"domain":[1.52945,1.57242],"nice":false,"zero":false},"axis":null}}}
]
}
